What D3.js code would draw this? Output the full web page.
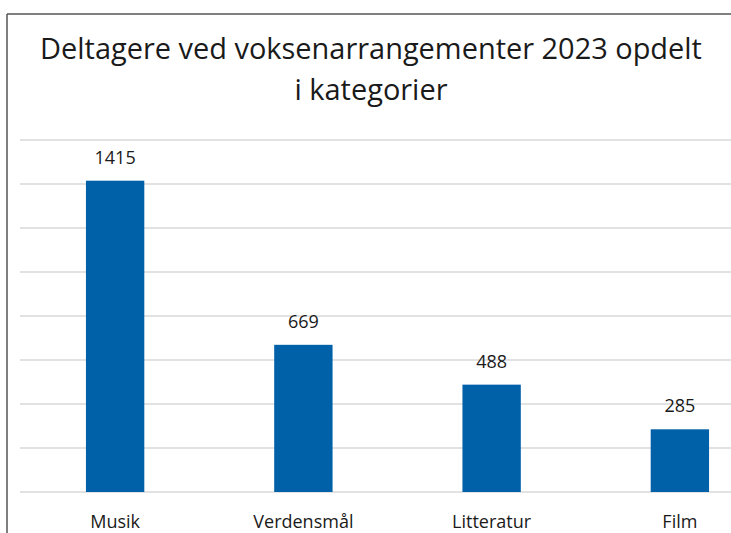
<!DOCTYPE html>
<html>
<head>
<meta charset="utf-8">
<script src="https://cdn.jsdelivr.net/npm/d3@7"></script>
<style>
  html, body { margin: 0; padding: 0; background: #fff; }
  svg { display: block; }
  text { font-family: "Open Sans", "Noto Sans", sans-serif; fill: #1a1a1a; }
</style>
</head>
<body>
<svg id="chart" width="731" height="533"></svg>
<script>
const categories = ["Musik", "Verdensmål", "Litteratur", "Film"];
const values = [1415, 669, 488, 285];
const gridTicks = [0, 200, 400, 600, 800, 1000, 1200, 1400, 1600];
const titleLines = ["Deltagere ved voksenarrangementer 2023 opdelt", "i kategorier"];

const W = 731, H = 533;
const svg = d3.select("#chart");

// frame (top and left edges visible)
svg.append("line").attr("x1", 7).attr("y1", 14).attr("x2", W).attr("y2", 14)
  .attr("stroke", "#555").attr("stroke-width", 1.5);
svg.append("line").attr("x1", 7).attr("y1", 14).attr("x2", 7).attr("y2", H)
  .attr("stroke", "#555").attr("stroke-width", 1.5);

// title
const titleCx = 371;
const t1 = svg.append("text").attr("x", titleCx).attr("y", 59)
  .attr("text-anchor", "middle").style("font-size", "28px").text(titleLines[0]);
const w1 = t1.node().getComputedTextLength();
const titleSize = 28 * 662 / w1;
t1.style("font-size", titleSize + "px");
svg.append("text").attr("x", titleCx).attr("y", 100)
  .attr("text-anchor", "middle").style("font-size", titleSize + "px").text(titleLines[1]);

// scales
const x = d3.scaleBand().domain(categories).range([21, 774]).paddingInner(0.69).paddingOuter(0.345);
const y = d3.scaleLinear().domain([0, 1600]).range([492, 140]);

// gridlines
svg.append("g").selectAll("line").data(gridTicks).join("line")
  .attr("x1", 20).attr("x2", W)
  .attr("y1", d => y(d)).attr("y2", d => y(d))
  .attr("stroke", "#d9d9d9").attr("stroke-width", 1.5);

// bars
svg.append("g").selectAll("rect").data(values).join("rect")
  .attr("x", (d, i) => x(categories[i]))
  .attr("width", x.bandwidth())
  .attr("y", d => y(d))
  .attr("height", d => y(0) - y(d))
  .attr("fill", "#0060a8");

// value labels
svg.append("g").selectAll("text").data(values).join("text")
  .attr("x", (d, i) => x(categories[i]) + x.bandwidth() / 2)
  .attr("y", d => y(d) - 17)
  .attr("text-anchor", "middle")
  .style("font-size", "18px")
  .text(d => d);

// category labels
svg.append("g").selectAll("text").data(categories).join("text")
  .attr("x", d => x(d) + x.bandwidth() / 2)
  .attr("y", 528)
  .attr("text-anchor", "middle")
  .style("font-size", "18px")
  .text(d => d);
</script>
</body>
</html>
